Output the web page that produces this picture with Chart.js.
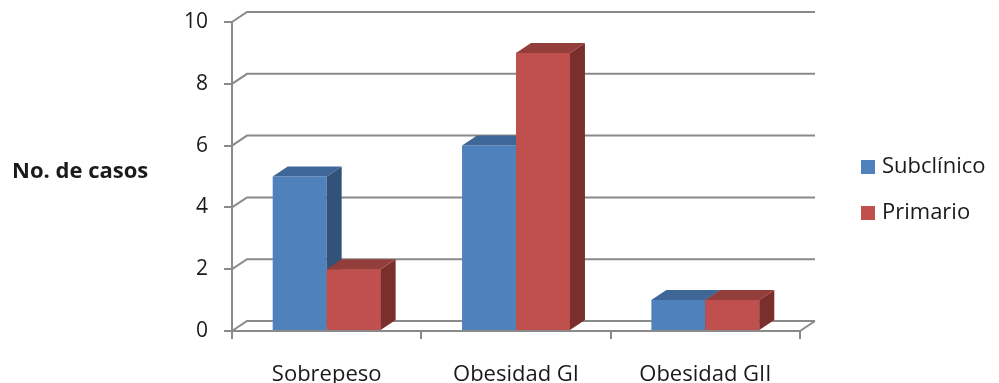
<!DOCTYPE html>
<html>
<head>
<meta charset="utf-8">
<script src="https://cdn.jsdelivr.net/npm/chart.js@4/dist/chart.umd.min.js"></script>
<style>
  html, body { margin: 0; padding: 0; background: #ffffff; }
  canvas { display: block; }
</style>
</head>
<body>
<canvas id="c" width="999" height="383"></canvas>
<script>
// Data
const categories = ['Sobrepeso', 'Obesidad GI', 'Obesidad GII'];
const subclinico = [5, 6, 1];
const primario = [2, 9, 1];
const seriesNames = ['Subclínico', 'Primario'];
const yMin = 0, yMax = 10, yStep = 2;
const axisTitle = 'No. de casos';

// Styling
const FONT = "'Open Sans', 'DejaVu Sans', sans-serif";
const TEXT = '#1a1a1a';
const GRID = '#8a8a8a';
const DX = 15, DY = 10;               // depth offset of the 3D look
const fronts = ['#4f81bd', '#c0504d'];
const faces = [
  { top: '#3e6797', side: '#32527a' },
  { top: '#943e3b', side: '#7a2f2d' }
];

function poly(ctx, pts, fill) {
  ctx.beginPath();
  ctx.moveTo(pts[0][0], pts[0][1]);
  for (let i = 1; i < pts.length; i++) ctx.lineTo(pts[i][0], pts[i][1]);
  ctx.closePath();
  ctx.fillStyle = fill;
  ctx.fill();
}

const depth3d = {
  id: 'depth3d',
  beforeDatasetsDraw(chart) {
    const { ctx, chartArea: a, scales: { y } } = chart;
    ctx.save();
    ctx.strokeStyle = GRID;
    ctx.lineWidth = 2;
    y.ticks.forEach(t => {
      const py = y.getPixelForValue(t.value);
      ctx.beginPath();
      ctx.moveTo(a.left, py);
      ctx.lineTo(a.left + DX, py - DY);
      ctx.lineTo(a.right + DX, py - DY);
      ctx.stroke();
    });
    // right edge of the floor
    ctx.beginPath();
    ctx.moveTo(a.right, a.bottom);
    ctx.lineTo(a.right + DX, a.bottom - DY);
    ctx.stroke();
    ctx.restore();
  },
  afterDatasetsDraw(chart) {
    const ctx = chart.ctx;
    ctx.save();
    [0, 1].forEach(di => {
      const meta = chart.getDatasetMeta(di);
      meta.data.forEach(bar => {
        if (di > 0) bar.draw(ctx);
        const { x, y, width, base } = bar.getProps(['x', 'y', 'width', 'base'], true);
        const l = x - width / 2, r = x + width / 2;
        poly(ctx, [[r, y], [r + DX, y - DY], [r + DX, base - DY], [r, base]], faces[di].side);
        poly(ctx, [[l, y], [l + DX, y - DY], [r + DX, y - DY], [r, y]], faces[di].top);
      });
    });
    ctx.restore();
  },
  afterDraw(chart) {
    const ctx = chart.ctx;
    ctx.save();
    ctx.fillStyle = TEXT;
    ctx.textBaseline = 'middle';
    ctx.textAlign = 'left';
    ctx.font = 'bold 22px ' + FONT;
    ctx.fillText(axisTitle, 12, 172);
    ctx.font = '22px ' + FONT;
    const ly = [167, 213];
    seriesNames.forEach((name, i) => {
      ctx.fillStyle = fronts[i];
      ctx.fillRect(861, ly[i] - 7, 14, 14);
      ctx.fillStyle = TEXT;
      ctx.fillText(name, 882, ly[i]);
    });
    ctx.restore();
  }
};

new Chart(document.getElementById('c'), {
  type: 'bar',
  data: {
    labels: categories,
    datasets: [
      { label: seriesNames[0], data: subclinico, backgroundColor: fronts[0] },
      { label: seriesNames[1], data: primario, backgroundColor: fronts[1] }
    ]
  },
  options: {
    responsive: false,
    animation: false,
    devicePixelRatio: 1,
    layout: { padding: { left: 0, right: 199, top: 22, bottom: 0 } },
    datasets: { bar: { categoryPercentage: 0.57, barPercentage: 1.0 } },
    plugins: { legend: { display: false }, tooltip: { enabled: false } },
    scales: {
      x: {
        grid: { drawOnChartArea: false, drawTicks: true, tickLength: 8, color: GRID, lineWidth: 2 },
        border: { display: true, color: GRID, width: 2 },
        ticks: { font: { family: FONT, size: 22 }, color: TEXT, padding: 23, maxRotation: 0 },
        afterFit: s => { s.height = 52; s.paddingLeft = 0; s.paddingRight = 0; }
      },
      y: {
        min: yMin, max: yMax,
        grid: { drawOnChartArea: false, drawTicks: true, tickLength: 8, color: GRID, lineWidth: 2 },
        border: { display: true, color: GRID, width: 2 },
        ticks: { stepSize: yStep, font: { family: FONT, size: 21 }, color: TEXT, padding: 16 },
        afterFit: s => { s.width = 232; s.paddingTop = 0; s.paddingBottom = 0; }
      }
    }
  },
  plugins: [depth3d]
});
</script>
</body>
</html>
